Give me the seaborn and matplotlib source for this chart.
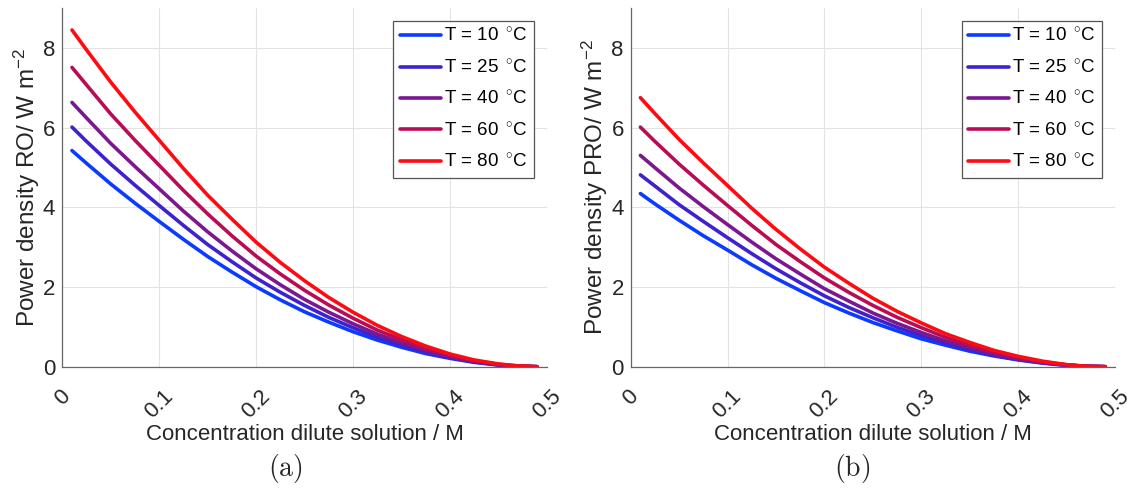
import matplotlib
matplotlib.use("Agg")
import matplotlib.pyplot as plt
import seaborn as sns
import pandas as pd

# ---------------- data ----------------
conc = [0.01, 0.025, 0.05, 0.075, 0.10, 0.125, 0.15, 0.175, 0.20, 0.225, 0.25,
        0.275, 0.30, 0.325, 0.35, 0.375, 0.40, 0.425, 0.45, 0.47, 0.49]

temps = ["10", "25", "40", "60", "80"]

ro_10 = [5.43, 5.11, 4.59, 4.11, 3.65, 3.20, 2.77, 2.38, 2.01, 1.68, 1.38,
         1.12, 0.88, 0.67, 0.49, 0.33, 0.21, 0.11, 0.04, 0.01, 0.0]
ro_25 = [6.02, 5.66, 5.09, 4.56, 4.05, 3.55, 3.07, 2.64, 2.23, 1.87, 1.54,
         1.24, 0.98, 0.74, 0.54, 0.37, 0.23, 0.12, 0.05, 0.01, 0.0]
ro_40 = [6.64, 6.25, 5.61, 5.03, 4.47, 3.91, 3.39, 2.91, 2.46, 2.06, 1.69,
         1.37, 1.08, 0.82, 0.60, 0.41, 0.25, 0.13, 0.05, 0.01, 0.0]
ro_60 = [7.52, 7.08, 6.35, 5.69, 5.06, 4.43, 3.84, 3.29, 2.78, 2.33, 1.92,
         1.55, 1.22, 0.92, 0.68, 0.46, 0.29, 0.15, 0.06, 0.02, 0.0]
ro_80 = [8.46, 7.96, 7.15, 6.40, 5.69, 4.98, 4.31, 3.71, 3.13, 2.62, 2.16,
         1.74, 1.37, 1.04, 0.76, 0.52, 0.32, 0.17, 0.07, 0.02, 0.0]

pro_10 = [4.35, 4.09, 3.68, 3.29, 2.93, 2.56, 2.22, 1.91, 1.61, 1.35, 1.11,
          0.90, 0.70, 0.54, 0.39, 0.27, 0.17, 0.09, 0.03, 0.01, 0.0]
pro_25 = [4.82, 4.54, 4.07, 3.65, 3.24, 2.84, 2.46, 2.11, 1.78, 1.49, 1.23,
          0.99, 0.78, 0.59, 0.43, 0.29, 0.18, 0.10, 0.04, 0.01, 0.0]
pro_40 = [5.31, 5.00, 4.49, 4.02, 3.57, 3.13, 2.71, 2.33, 1.96, 1.65, 1.35,
          1.09, 0.86, 0.65, 0.48, 0.32, 0.20, 0.11, 0.04, 0.01, 0.0]
pro_60 = [6.02, 5.66, 5.09, 4.56, 4.05, 3.55, 3.07, 2.64, 2.23, 1.87, 1.54,
          1.24, 0.98, 0.74, 0.54, 0.37, 0.23, 0.12, 0.05, 0.01, 0.0]
pro_80 = [6.76, 6.36, 5.71, 5.12, 4.55, 3.98, 3.45, 2.96, 2.50, 2.10, 1.72,
          1.39, 1.10, 0.83, 0.61, 0.41, 0.26, 0.14, 0.05, 0.01, 0.0]

x_ticks = [0, 0.1, 0.2, 0.3, 0.4, 0.5]
y_ticks = [0, 2, 4, 6, 8]

# ---------------- style ----------------
sns.set_theme(style="whitegrid")
plt.rcParams["font.family"] = ["Liberation Sans", "DejaVu Sans"]
plt.rcParams["mathtext.fontset"] = "custom"
plt.rcParams["mathtext.rm"] = "Liberation Sans"
plt.rcParams["mathtext.it"] = "Liberation Sans:italic"

colors = ["#0b3bff", "#3f22cc", "#7b1890", "#b80d55", "#ff0a12"]
text_col = "#262626"
fs = 16

fig = plt.figure(figsize=(11.27, 4.88), dpi=100)
ax_l = fig.add_axes([0.05528, 0.24857, 0.42982, 0.73402])
ax_r = fig.add_axes([0.55963, 0.24857, 0.42973, 0.73402])


def build_df(series):
    rows = []
    for t, vals in zip(temps, series):
        for c, v in zip(conc, vals):
            rows.append({"c": c, "p": v, "T": "T = " + t + r" $\,^{\circ}$C"})
    return pd.DataFrame(rows)


panels = [
    (ax_l, [ro_10, ro_25, ro_40, ro_60, ro_80], r"Power density RO/ W m$^{-2}$", "(a)", 0.253),
    (ax_r, [pro_10, pro_25, pro_40, pro_60, pro_80], r"Power density PRO/ W m$^{-2}$", "(b)", 0.756),
]

for ax, series, ylab, cap, capx in panels:
    df = build_df(series)
    sns.lineplot(data=df, x="c", y="p", hue="T", palette=colors, linewidth=2.6,
                 sort=False, ax=ax, legend=True)
    ax.set_xlim(0, 0.5)
    ax.set_ylim(0, 9)
    ax.set_xticks(x_ticks)
    ax.set_xticklabels([("%g" % v) for v in x_ticks], rotation=45, ha="center",
                       fontsize=fs, color=text_col)
    ax.set_yticks(y_ticks)
    ax.set_yticklabels([str(v) for v in y_ticks], fontsize=fs, color=text_col)
    ax.tick_params(axis="x", direction="in", length=4, pad=14, color="#555555", width=0.8)
    ax.tick_params(axis="y", direction="in", length=4, pad=5, color="#555555", width=0.8)
    ax.set_xlabel("Concentration dilute solution / M", fontsize=fs, color=text_col, labelpad=1)
    ax.set_ylabel(ylab, fontsize=17.5, color=text_col, labelpad=1)
    ax.grid(True, color="#e3e3e3", linewidth=0.8)
    ax.set_facecolor("white")
    for side in ["top", "right"]:
        ax.spines[side].set_visible(False)
    for side in ["left", "bottom"]:
        ax.spines[side].set_color("#666666")
        ax.spines[side].set_linewidth(0.9)
    leg = ax.legend(loc="upper right", bbox_to_anchor=(0.974, 0.965), borderaxespad=0,
                    fontsize=13.5, frameon=True, fancybox=False, framealpha=1,
                    edgecolor="#555555", handlelength=2.2, handletextpad=0.15,
                    labelspacing=0.7, borderpad=0.35)
    leg.get_frame().set_linewidth(0.9)
    for t in leg.get_texts():
        t.set_color("black")
    fig.text(capx, 0.04, r"$\mathrm{" + cap + "}$", ha="center",
             va="center", fontsize=20, math_fontfamily="cm")

fig.savefig("out.png", dpi=100, facecolor="white")
